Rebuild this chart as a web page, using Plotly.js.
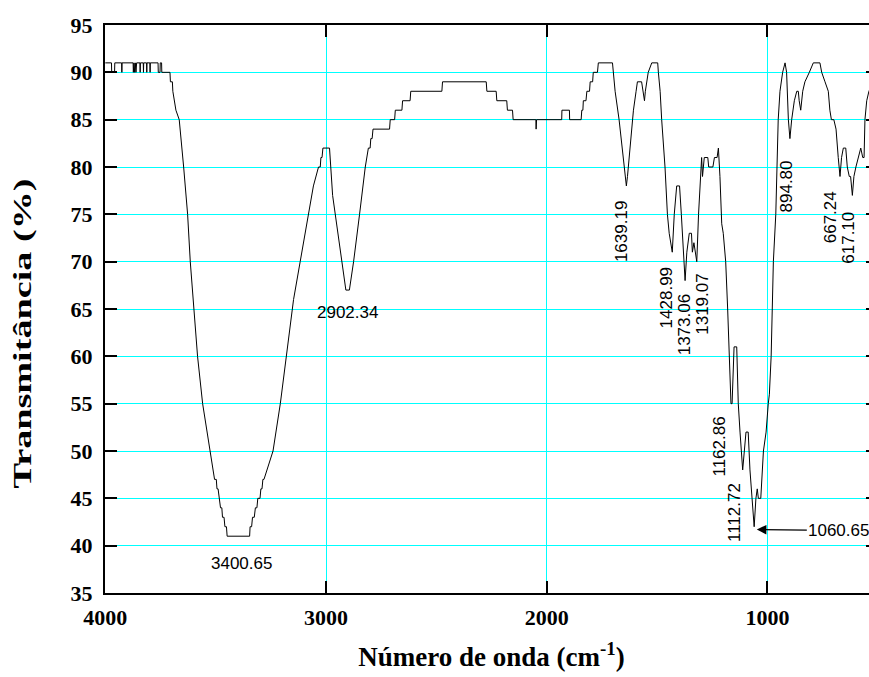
<!DOCTYPE html>
<html>
<head>
<meta charset="utf-8">
<script src="https://cdn.plot.ly/plotly-3.0.1.min.js"></script>
<style>
html,body{margin:0;padding:0;background:#fff;overflow:hidden;}
#wrap{width:869px;height:677px;overflow:hidden;position:relative;}
#chart{width:900px;height:677px;}
</style>
</head>
<body>
<div id="wrap"><div id="chart"></div></div>
<script>
// Wavenumber (cm-1)
const wavenumber = [
4000,3972,3971,3958,3957,3926,3925,3924,3874,3873,3870,3867,3864,3861,3858,3843,3842,3841,3828,3827,3826,3813,3812,3811,3798,3797,3796,3761,3760,3752,3751,3745,3744,3707,3705,3696,3694,3680,3665,3645,3627,3615,3600,3582,3559,3527,3505,3497,3494,3489,3485,3478,3472,3469,3462,3458,3451,3448,3346,3344,3337,3333,3325,3320,3313,3309,3299,3295,3290,3286,3281,3240,3207,3180,3147,3117,3079,3057,3034,3026,3023,3018,3014,2984,2970,2939,2930,2910,2894,2875,2848,2822,2808,2800,2797,2791,2787,2712,2709,2689,2686,2656,2653,2619,2616,2475,2472,2274,2271,2229,2226,2181,2178,2155,2152,2049,2048,2046,1932,1931,1897,1896,1844,1841,1836,1834,1822,1818,1806,1803,1792,1789,1770,1766,1702,1699,1690,1672,1655,1645,1639,1634,1622,1607,1595,1589,1570,1562,1557,1553,1548,1540,1524,1497,1494,1486,1479,1464,1453,1445,1431,1422,1411,1398,1390,1382,1373,1365,1354,1344,1340,1333,1327,1320,1312,1298,1294,1286,1270,1266,1247,1240,1228,1222,1215,1207,1200,1189,1180,1174,1165,1160,1151,1139,1132,1124,1112,1097,1087,1079,1071,1060,1052,1046,1041,1030,1018,1006,996,991,983,978,973,962,958,951,943,931,920,913,905,898,890,878,867,860,856,849,840,830,810,792,762,754,739,724,717,710,699,689,679,671,664,656,645,638,629,623,615,608,599,588,577,568,562,558,550,540,520,500];
// Transmittance (%)
const transmittance = [
91,91,90,90,91,91,90,91,91,90,91,90,91,90,91,91,90,91,91,90,91,91,90,91,91,90,91,91,90,90,91,91,90,90,89,89,88,86,85,80,75,70,65,60,55,50,47,47,46,46,45,44,44,43,43,42,42,41,41,42,42,43,43,44,44,45,45,46,46,47,47,50,55,60,66,70,75,78,80,80,81,81,82,82,77,72,70,67,67,70,75,80,82,82,83,83,84,84,85,85,86,86,87,87,88,88,89,89,88,88,87,87,86,86,85,85,84,85,85,86,86,85,85,86,86,87,87,88,88,89,89,90,90,91,91,90,88,85,81,79,78,79,82,86,88,89,89,88,87,88,89,90,91,91,90,88,85,80,75,73,71,75,78,78,75,71,68,71,73,73,71,72,71,70,75,81,79,81,81,80,80,81,81,82,79,74,73,70,65,60,55,55,61,61,55,52,48,52,52,48,45,42,45,46,45,45,50,52,55,56,60,66,70,75,80,85,88,90,91,90,85,83,85,87,88,88,87,86,88,89,90,91,91,90,89,88,86,85,85,84,81,79,81,82,82,80,79,79,77,79,80,81,82,81,81,85,87,88,89,89];
// Axis tick values and labels
const xTickVals = [4000,3000,2000,1000];
const xTickText = ["4000","3000","2000","1000"];
const yTickVals = [35,40,45,50,55,60,65,70,75,80,85,90,95];
// Peak labels (wavenumber text)
const peakText = ["3400.65","2902.34","1639.19","1428.99","1373.06","1319.07","1162.86","1112.72","894.80","667.24","617.10"];
const arrowLabel = "1060.65";
const yTitle = "Transmitância (%)";
const xTitle = "Número de onda (cm<sup>-1</sup>)";

const lblFont = {family:"Liberation Sans, Arial, sans-serif", size:17, color:"#000"};
// label anchor points in data coords (wavenumber, %T) and angle
const lblPos = [[3385,38.1,0],[2903,64.6,0],[1660,73.2,-90],[1456,66.2,-90],[1377,63.3,-90],[1294,65.5,-90],[1218,50.5,-90],[1149,43.5,-90],[913,77.9,-90],[716,74.7,-90],[636,72.5,-90]];
const annotations = peakText.map((t,i)=>({
  x:lblPos[i][0], y:lblPos[i][1], xref:'x', yref:'y', text:t, showarrow:false,
  textangle:lblPos[i][2], font:lblFont, xanchor:'center', yanchor:'middle'
}));
annotations.push({
  x:1048, y:41.7, xref:'x', yref:'y', text:arrowLabel, showarrow:true,
  ax:82, ay:1, axref:'pixel', ayref:'pixel', arrowhead:2, arrowsize:1.6, arrowwidth:1.2,
  arrowcolor:'#000', font:lblFont, standoff:0
});
annotations.push({
  x:-0.1074, y:0.4577, xref:'paper', yref:'paper', text:yTitle, showarrow:false,
  textangle:-90, xanchor:'center', yanchor:'middle',
  font:{family:"Liberation Serif, Times New Roman, serif", size:26, color:"#000", weight:'bold'}
});

const trace = {
  x: wavenumber, y: transmittance, type:'scatter', mode:'lines',
  line:{color:'#000', width:1}, hoverinfo:'x+y'
};

const axisCommon = {
  showline:true, linecolor:'#000', linewidth:2, mirror:'ticks',
  ticks:'inside', ticklen:12, tickwidth:2, tickcolor:'#000',
  showgrid:true, gridcolor:'#00FFFF', gridwidth:1, zeroline:false,
  tickfont:{family:"Liberation Serif, Times New Roman, serif", size:22, color:'#000', weight:'bold'}
};

const pxPerUnit = 0.2207;
const xStart = 4000 + 0.3/pxPerUnit;
const layout = {
  width:900, height:677,
  margin:{l:105, r:22, t:25, b:84},
  paper_bgcolor:'#fff', plot_bgcolor:'#fff',
  showlegend:false,
  xaxis: Object.assign({}, axisCommon, {
    range:[xStart, xStart-773/pxPerUnit], tickmode:'array', tickvals:xTickVals, ticktext:xTickText,
    ticklabelstandoff:4,
    title:{text:xTitle, standoff:18,
      font:{family:"Liberation Serif, Times New Roman, serif", size:27, color:'#000', weight:'bold'}}
  }),
  yaxis: Object.assign({}, axisCommon, {
    range:[35,95], tickmode:'array', tickvals:yTickVals, ticklabelstandoff:6
  }),
  annotations: annotations
};

Plotly.newPlot('chart', [trace], layout, {displayModeBar:false, staticPlot:true}).then(()=>{
  document.querySelectorAll('#chart .annotation-text').forEach(t=>{
    if (t.textContent === yTitle) {
      t.setAttribute('textLength', '310');
      t.setAttribute('lengthAdjust', 'spacingAndGlyphs');
    }
  });
});
</script>
</body>
</html>
